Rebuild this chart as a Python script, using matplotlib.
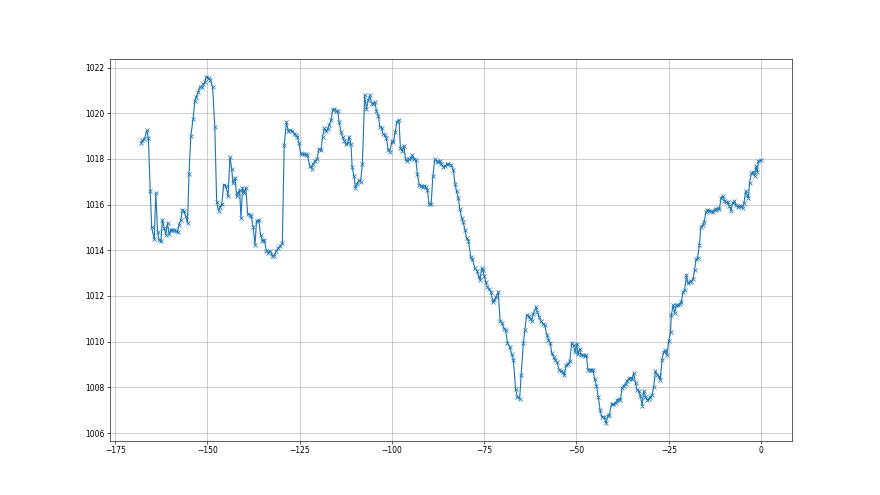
import matplotlib
matplotlib.use("Agg")
import matplotlib.pyplot as plt

# hours relative to now
hours = [
    -168.0, -167.6, -167.1, -166.4, -166.0, -165.5, -165.1, -164.4, -164.0, -163.5,
    -163.1, -162.6, -162.2, -161.7, -161.3, -160.8, -160.4, -159.9, -159.5, -159.0,
    -158.6, -158.1, -157.7, -157.2, -156.8, -156.3, -155.9, -155.4, -155.0, -154.5,
    -153.9, -153.4, -153.0, -152.5, -152.1, -151.6, -151.2, -150.7, -150.3, -149.7,
    -149.2, -148.6, -148.0, -147.5, -147.0, -146.6, -146.1, -145.6, -145.0, -144.4,
    -143.9, -143.4, -143.1, -142.5, -142.1, -141.7, -141.3, -140.9, -140.5, -140.1,
    -139.6, -139.1, -138.5, -138.1, -137.6, -137.1, -136.7, -136.1, -135.6, -135.1,
    -134.6, -134.0, -133.5, -133.0, -132.4, -131.9, -131.3, -130.8, -130.3, -129.7,
    -129.2, -128.6, -128.1, -127.5, -127.0, -126.5,
    -126.1, -125.6, -125.2, -124.7, -124.3, -123.8, -123.4, -122.9, -122.3, -121.8,
    -121.3, -120.9, -120.3, -119.8, -119.2, -118.8, -118.3, -117.9, -117.4, -117.0,
    -116.5, -116.1, -115.6, -115.2, -114.7, -114.3, -113.8, -113.4, -112.9, -112.5,
    -112.0, -111.6, -111.1, -110.8, -110.3, -109.9, -109.4, -109.0, -108.5, -108.0,
    -107.4, -106.9, -106.4, -106.0, -105.5, -105.1, -104.6, -104.2, -103.7, -103.3,
    -102.8, -102.4, -101.9, -101.5, -101.0, -100.6, -100.0, -99.6, -99.1, -98.7,
    -98.1, -97.7, -97.2, -96.8, -96.3, -95.8, -95.4, -94.9, -94.5, -94.0,
    -93.5, -93.1, -92.6, -92.2, -91.7, -91.3, -90.8, -90.4, -89.9, -89.4,
    -88.9, -88.4, -87.9, -87.5, -87.0, -86.6, -86.1, -85.7, -85.2, -84.8,
    -84.0, -83.4, -82.9, -82.5, -82.0, -81.6, -81.1, -80.7, -80.2, -79.8,
    -79.3, -78.6, -78.2, -77.5, -77.0, -76.5, -76.1, -75.7, -75.4, -75.0,
    -74.6, -74.2, -73.6, -73.2, -72.7, -72.3, -71.8, -71.2, -70.7, -70.2,
    -69.6, -69.2, -68.7, -68.1, -67.6, -67.1, -66.5, -66.0, -65.4, -65.0,
    -64.4, -64.0, -63.5, -63.0, -62.6, -62.1, -61.7, -61.0, -60.6, -60.1,
    -59.7, -59.0, -58.6, -58.0, -57.6, -57.1, -56.7, -56.2, -55.8, -55.3,
    -54.7, -54.2, -53.7, -53.3, -52.8, -52.3, -51.8, -51.3, -50.8, -50.4,
    -49.9, -49.6, -49.1, -48.7, -48.2, -47.8, -47.3, -46.9, -46.4, -46.0,
    -45.5, -45.1, -44.6, -44.1, -43.6, -43.2, -42.5,
    -42.0, -41.5, -41.1, -40.5, -40.0, -39.4, -39.0, -38.5, -38.1, -37.6,
    -37.2, -36.7, -36.3, -35.8, -35.4, -34.9, -34.5, -34.0, -33.6, -33.1,
    -32.7, -32.2, -31.8, -31.3, -30.9, -30.4, -30.0, -29.5, -29.1, -28.6,
    -28.2, -27.7, -27.3, -26.8, -26.4, -25.9, -25.5, -25.0, -24.5, -24.3,
    -23.8, -23.4, -22.9, -22.5, -22.0, -21.6, -21.1, -20.7, -20.2, -19.8,
    -19.3, -18.9, -18.4, -18.0, -17.6, -17.2, -16.7, -16.3, -15.8, -15.4,
    -14.9, -14.5, -14.0, -13.5, -13.1, -12.6, -12.2, -11.7, -11.3, -10.8,
    -10.4, -9.9, -9.5, -9.0, -8.6, -8.1, -7.7, -7.2, -6.8, -6.3,
    -5.9, -5.4, -5.0, -4.6, -4.2, -3.8, -3.4, -3.1, -2.6, -2.2,
    -1.7, -1.4, -1.0, -0.7, 0.0,
]

# pressure (hPa)
pressure = [
    1018.71, 1018.81, 1018.86, 1019.25, 1018.93, 1016.59, 1015.00, 1014.49, 1016.51, 1014.80,
    1014.46, 1014.39, 1015.34, 1014.97, 1014.68, 1015.19, 1014.71, 1014.90, 1014.90, 1014.90,
    1014.83, 1014.80, 1015.12, 1015.34, 1015.78, 1015.71, 1015.50, 1015.19, 1017.32, 1019.00,
    1019.74, 1020.54, 1020.72, 1020.91, 1021.13, 1021.16, 1021.27, 1021.35, 1021.60, 1021.54,
    1021.45, 1021.13, 1019.40, 1016.12, 1015.74, 1015.88, 1016.03, 1016.88, 1016.81, 1016.37,
    1018.08, 1017.54, 1016.95, 1017.17, 1016.37, 1016.51, 1016.66, 1015.41, 1016.73, 1016.51,
    1016.73, 1015.59, 1015.56, 1015.49, 1015.00, 1014.24, 1015.27, 1015.34, 1014.68, 1014.42,
    1014.46, 1013.98, 1013.90, 1013.98, 1013.77, 1013.77, 1013.98, 1014.10, 1014.17, 1014.32,
    1018.61, 1019.62, 1019.22, 1019.25, 1019.22, 1019.11,
    1019.05, 1018.97, 1018.68, 1018.24, 1018.20, 1018.20, 1018.20, 1018.17, 1017.70, 1017.58,
    1017.80, 1017.90, 1017.99, 1018.43, 1018.39, 1018.97, 1019.34, 1019.22, 1019.31, 1019.49,
    1019.71, 1020.13, 1020.19, 1020.10, 1020.10, 1019.60, 1019.19, 1018.97, 1018.78, 1018.64,
    1018.68, 1018.97, 1018.64, 1017.66, 1017.26, 1016.73, 1016.92, 1017.07, 1017.00, 1017.80,
    1020.78, 1020.19, 1020.59, 1020.78, 1020.44, 1020.40, 1020.48, 1020.10, 1019.90, 1019.41,
    1019.34, 1019.08, 1019.05, 1018.90, 1018.39, 1018.32, 1018.78, 1018.73, 1019.19, 1019.63,
    1019.71, 1018.46, 1018.36, 1018.58, 1017.98, 1017.90, 1017.98, 1018.02, 1018.17, 1017.98,
    1017.95, 1017.32, 1016.88, 1016.82, 1016.78, 1016.82, 1016.78, 1016.63, 1016.01, 1016.01,
    1017.26, 1017.99, 1017.90, 1017.85, 1017.90, 1017.76, 1017.66, 1017.68, 1017.76, 1017.79,
    1017.75, 1017.53, 1016.92, 1016.58, 1016.28, 1015.80, 1015.41, 1015.22, 1014.89, 1014.53,
    1014.42, 1013.69, 1013.60, 1013.21, 1013.11, 1012.87, 1012.70, 1013.21, 1013.16, 1012.87,
    1012.62, 1012.40, 1012.29, 1012.18, 1011.74, 1011.82, 1011.96, 1012.18, 1010.91, 1010.82,
    1010.57, 1010.50, 1009.94, 1009.77, 1009.47, 1009.21, 1007.93, 1007.57, 1007.49, 1008.52,
    1009.94, 1010.50, 1011.16, 1011.11, 1011.01, 1010.91, 1011.23, 1011.52, 1011.30, 1011.08,
    1010.91, 1010.76, 1010.72, 1010.28, 1010.09, 1009.94, 1009.50, 1009.33, 1009.21, 1009.11,
    1008.77, 1008.71, 1008.67, 1008.52, 1008.96, 1009.03, 1009.15, 1009.94, 1009.84, 1009.55,
    1009.91, 1009.44, 1009.69, 1009.40, 1009.40, 1009.36, 1009.40, 1008.77, 1008.77, 1008.77,
    1008.77, 1008.37, 1008.08, 1007.60, 1007.01, 1006.72, 1006.72,
    1006.43, 1006.76, 1006.81, 1007.27, 1007.25, 1007.30, 1007.45, 1007.49, 1007.45, 1007.98,
    1008.08, 1008.15, 1008.30, 1008.37, 1008.42, 1008.37, 1008.62, 1008.18, 1007.89, 1007.86,
    1007.64, 1007.20, 1007.83, 1007.60, 1007.45, 1007.49, 1007.57, 1007.68, 1008.01, 1008.71,
    1008.56, 1008.48, 1008.33, 1009.21, 1009.55, 1009.62, 1009.40, 1010.03, 1010.42, 1011.16,
    1011.60, 1011.26, 1011.60, 1011.60, 1011.64, 1011.74, 1012.18, 1012.26, 1012.92, 1012.55,
    1012.62, 1012.67, 1012.73, 1013.14, 1013.60, 1013.65, 1014.23, 1015.01, 1015.11, 1015.26,
    1015.66, 1015.77, 1015.74, 1015.70, 1015.66, 1015.77, 1015.80, 1015.85, 1015.80, 1016.29,
    1016.39, 1016.18, 1016.10, 1016.10, 1015.95, 1015.74, 1016.07, 1016.14, 1015.99, 1015.89,
    1015.92, 1015.92, 1015.85, 1016.07, 1016.58, 1016.43, 1016.29, 1016.95, 1017.38, 1017.41,
    1017.27, 1017.68, 1017.41, 1017.90, 1017.94,
]

fig, ax = plt.subplots(figsize=(16, 9), dpi=55)
ax.plot(hours, pressure, marker="x", color="#1f77b4", linewidth=1.5)
ax.grid(True)
fig.savefig("out.png", dpi=55)
